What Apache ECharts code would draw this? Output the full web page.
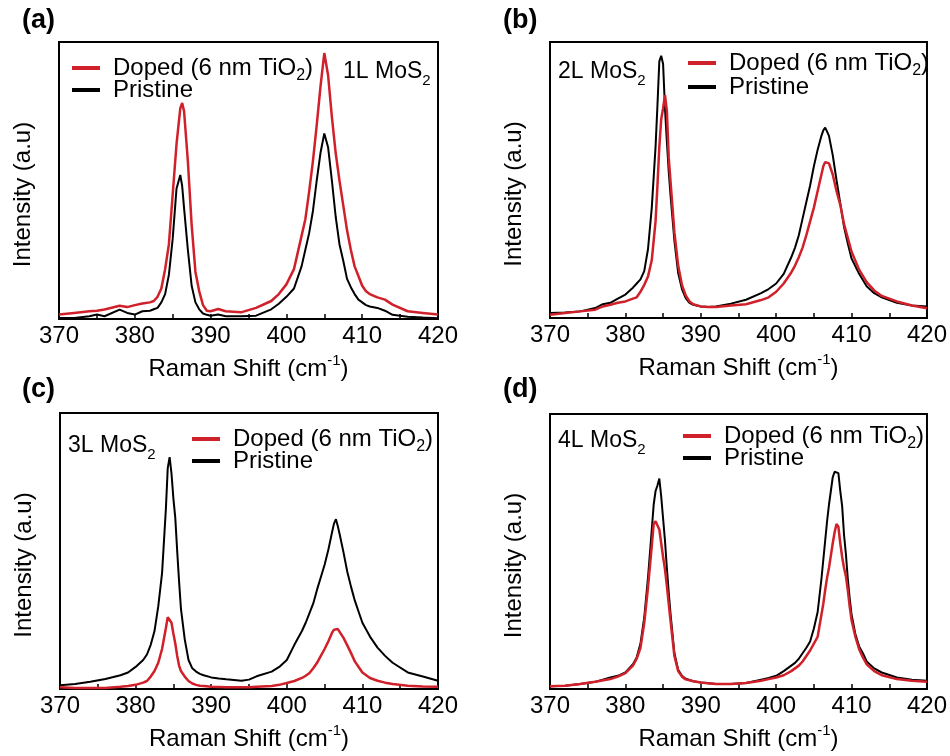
<!DOCTYPE html>
<html>
<head>
<meta charset="utf-8">
<script src="https://cdn.jsdelivr.net/npm/echarts@6/dist/echarts.min.js"></script>
<style>html,body{margin:0;padding:0;background:#fff}#c{width:950px;height:756px}</style>
</head>
<body>
<div id="c"></div>
<script>
// ---- Data (Raman shift in cm^-1, intensity in arbitrary units, 0-100 of panel height) ----
const xTickLabels = [370, 380, 390, 400, 410, 420];
const panelLabels = ['(a)', '(b)', '(c)', '(d)'];
const layerLabels = ['1L MoS{sub|2}', '2L MoS{sub|2}', '3L MoS{sub|2}', '4L MoS{sub|2}'];
const seriesNames = ['Doped', 'Pristine'];

// Panel (a) 1L
const xA = [370,372,374,375,376,378,379,380,381,382,382.5,383,383.5,384,384.5,385,385.5,386,386.25,386.5,387,387.5,388,388.5,389,389.5,390,391,392,394,396,398,399,400,401,402,402.5,403,403.5,404,404.5,405,405.5,406,406.5,407,407.5,408,408.5,409,409.5,410,410.5,411,412,413,414,416,418,420];
const dopedA = [1.6,2.2,2.8,3.0,3.4,4.8,4.3,5.0,5.6,6.0,6.5,8,11,18,27,45,63,76,78,75,57,34,17,10,5,3,2.8,3.6,2.8,2.4,4,6.5,9,12.5,18,30,36,46,57,70,84,96,88,73,60,50,41,32,25,19,15.5,12,10,9,7.8,7,5.2,2.8,2.2,1.6];
const pristineA = [0.4,0.4,1,1.6,1,3.4,2.2,1.6,2.8,3,3.5,4,6,9,16,29,47,52,48,40,25,12,6,3.5,2,1.5,1.2,1.6,1,1,1.2,3.5,5.5,8,11,19,25,31,39,50,60,67,62,50,37,27,21,14.5,11.5,9,7,6,5,4.5,4,3,1.5,0.8,0.5,0.3];

// Panel (b) 2L
const xB = [370,372,374,376,377,378,379,380,381,381.5,382,382.5,383,383.5,384,384.25,384.5,384.75,385,385.25,385.5,385.75,386,386.5,387,387.5,388,388.5,389,390,391,392,394,396,398,399,400,401,402,402.5,403,403.5,404,404.5,405,405.5,406,406.25,406.5,406.75,407,407.5,408,408.5,409,409.5,410,411,412,413,414,416,418,420];
const dopedB = [1.2,1.8,2.4,3,4.2,4.8,5.5,6,7,7.5,9.5,12,15,21,35,48,62,72,76,80.7,75,58,49,31,19,12,8.2,6,5,4.2,4,4,4.5,5,6.5,7.5,9.5,12.5,16.5,19,22,25.5,30,35,40,46,52,55,56.5,57,56,52,46,41,34,29,24,17.5,13,10,8,6,4.5,3.5];
const pristineB = [1.8,2,2.4,3.6,5,5.5,7,8.5,11,12.5,14,17,25,40,62,77,93,95,92,76,64,53,44,28,16.3,10.5,7.2,5.5,4.8,4.2,4,4.2,5.2,6.6,9,10.5,12.5,16,22,25.5,30,36,42,48,55,61,66,68,69,67.5,66,59,50,41.5,33,27,21.5,16,11.5,9,7.5,5.5,4.5,4.2];

// Panel (c) 3L
const xC = [370,372,374,376,378,379,380,381,381.5,382,382.5,383,383.5,384,384.25,384.5,384.75,385,385.25,385.5,385.75,386,386.5,387,387.5,388,388.5,389,390,391,392,394,395,396,398,399,400,401,402,402.5,403,403.5,404,404.5,405,405.5,406,406.25,406.5,406.75,407,407.5,408,408.5,409,409.5,410,411,412,413,414,416,418,420];
const dopedC = [0.6,0.4,0.4,0.4,0.8,1.1,1.5,2.3,2.9,4.5,6.5,9.5,14.5,22,26,26,24,20,16.5,12,8.5,6.5,4.5,2.9,2,1.5,1.2,1.1,0.8,0.7,0.6,0.6,0.6,0.8,1.1,1.5,2.2,2.9,4,4.8,5.8,7.5,9.5,12,14.5,17.3,20.5,21.5,22,21.7,21,18.5,15.8,13,10,8,6,4,3,2.3,1.8,1.2,0.9,0.8];
const pristineC = [1.4,1.8,2.6,3.6,5,6,8,10.5,12.5,16,21,30,42,65,80,84,78,69,62,50,39,29,18,10.5,7.5,6.3,5.5,5,4.2,3.8,3.5,3,3.4,4.6,6.3,8,10.5,16,21,24,27.5,31,36,40.5,45,50.5,57,60,61.5,59,56,49.5,42.5,37,32,28,24,19,15,12,9.5,6,4.5,3];

// Panel (d) 4L
const xD = [370,372,374,376,378,379,380,381,381.5,382,382.5,383,383.5,383.75,384,384.25,384.5,384.75,385,385.25,385.5,385.75,386,386.5,387,387.5,388,389,390,392,394,396,398,399,400,401,402,402.5,403,403.5,404,404.5,405,405.5,406,406.25,406.5,406.75,407,407.25,407.5,407.75,408,408.25,408.5,408.75,409,409.25,409.5,409.75,410,410.5,411,411.5,412,413,414,416,418,420];
const dopedD = [1,1.2,1.8,2.6,3.6,4.5,5.8,8.5,11,15,24,37,52,60,61,61,58,53,48,43.5,37.5,31,24.5,12,6.5,4.5,3.5,2.8,2.4,1.8,1.8,2.2,3,3.6,4.2,5,6.5,7.5,8.5,10,12,14,16.5,19,27,31,36,40.5,44,48.5,53,57,60,59,53,48,44,41,36,30,25,19,14.5,11.5,9,6.5,5,3.6,3,2.6];
const pristineD = [1,1.2,1.8,2.6,4.2,4.8,6,9,11.5,16.5,26,40.5,58,67,72,74,76.5,70,62,54,44,35,27,13,7,4.8,3.7,2.8,2.4,1.8,1.8,2.2,3.4,4,4.8,6.5,8.5,9.5,11,13,15,17.3,22,28,40,47,54,61,67,72,77,79,79,78.5,72,66.5,56,49,40,33,27,20,15.5,13,10,7.5,6,4.2,3.4,3];

const panelX = [xA, xB, xC, xD];
const panelDoped = [dopedA, dopedB, dopedC, dopedD];
const panelPristine = [pristineA, pristineB, pristineC, pristineD];

// ---- Layout / style ----
const FONT = "'Liberation Sans', Arial, Helvetica, sans-serif";
const RED = '#d0202a';
const BLACK = '#000000';
const grids = [
  {left: 59, top: 42, width: 379, height: 277},
  {left: 550, top: 42, width: 379, height: 276},
  {left: 60, top: 413, width: 378, height: 278},
  {left: 550, top: 414, width: 379, height: 277}
];
const panelLabelPos = [[22, 7], [503, 7], [22, 376], [503, 376]];
const layerLabelPos = [[343, 56], [558, 56], [68, 430], [558, 425]];
const legendPos = [[72, 68, 90], [688, 63, 87], [192, 439, 461], [683, 436, 458]];

const richSub = {
  sub: {fontSize: 16, fontFamily: FONT, color: '#000', verticalAlign: 'bottom', lineHeight: 32}
};
const richSup = {
  sup: {fontSize: 15, fontFamily: FONT, color: '#000', verticalAlign: 'top', lineHeight: 32}
};

const option = {
  backgroundColor: '#ffffff',
  animation: false,
  grid: grids.map(g => Object.assign({show: true, borderColor: '#000', borderWidth: 2, backgroundColor: 'transparent', containLabel: false}, g)),
  xAxis: grids.map((g, i) => ({
    type: 'value', gridIndex: i, min: 370, max: 420, interval: 5,
    axisLine: {show: false},
    axisTick: {show: true, inside: true, length: 5, lineStyle: {color: '#000', width: 1.5}},
    splitLine: {show: false},
    axisLabel: {
      color: '#000', fontSize: 24, fontFamily: FONT, margin: 5,
      formatter: v => (xTickLabels.indexOf(v) >= 0 ? String(v) : '')
    },
    name: 'Raman Shift (cm{sup|-1})',
    nameLocation: 'middle', nameGap: 34,
    nameTextStyle: {color: '#000', fontSize: 24, fontFamily: FONT, lineHeight: 32, rich: richSup}
  })),
  yAxis: grids.map((g, i) => ({
    type: 'value', gridIndex: i, min: 0, max: 100,
    axisLine: {show: false}, axisTick: {show: false}, axisLabel: {show: false}, splitLine: {show: false},
    name: 'Intensity (a.u)', nameLocation: 'middle', nameGap: 24,
    nameTextStyle: {color: '#000', fontSize: 24, fontFamily: FONT, padding: [0, 28, 0, 0]}
  })),
  title: [].concat(
    panelLabels.map((t, i) => ({
      text: t, left: panelLabelPos[i][0], top: panelLabelPos[i][1], padding: 0,
      textStyle: {fontSize: 27, fontWeight: 'bold', color: '#000', fontFamily: FONT}
    })),
    layerLabels.map((t, i) => ({
      text: t, left: layerLabelPos[i][0], top: layerLabelPos[i][1], padding: 0,
      textStyle: {fontSize: 23, fontWeight: 'normal', color: '#000', fontFamily: FONT, lineHeight: 32, rich: {sub: {fontSize: 15, fontFamily: FONT, color: '#000', verticalAlign: 'bottom', lineHeight: 32}}}
    }))
  ),
  legend: [].concat.apply([], legendPos.map((p) => [
    {
      data: ['Doped'], left: p[0], top: p[1] - 16, padding: 0, orient: 'vertical',
      icon: 'rect', itemWidth: 28, itemHeight: 4,
      formatter: () => 'Doped (6 nm TiO{sub|2})',
      textStyle: {color: '#000', fontSize: 24, fontFamily: FONT, lineHeight: 32, padding: [0, 0, 0, 8], rich: richSub},
      selectedMode: false
    },
    {
      data: ['Pristine'], left: p[0], top: p[2] - 12, padding: 0, orient: 'vertical',
      icon: 'rect', itemWidth: 28, itemHeight: 4,
      textStyle: {color: '#000', fontSize: 24, fontFamily: FONT, lineHeight: 24, padding: [0, 0, 0, 8]},
      selectedMode: false
    }
  ])),
  series: [].concat.apply([], panelX.map((xs, i) => [
    {
      name: 'Pristine', type: 'line', xAxisIndex: i, yAxisIndex: i,
      data: xs.map((x, k) => [x, panelPristine[i][k]]),
      showSymbol: false, symbol: 'none', smooth: false,
      lineStyle: {color: BLACK, width: 2}, itemStyle: {color: BLACK}, z: 2
    },
    {
      name: 'Doped', type: 'line', xAxisIndex: i, yAxisIndex: i,
      data: xs.map((x, k) => [x, panelDoped[i][k]]),
      showSymbol: false, symbol: 'none', smooth: false,
      lineStyle: {color: RED, width: 2.5}, itemStyle: {color: RED}, z: 3
    }
  ]))
};

const chart = echarts.init(document.getElementById('c'), null, {renderer: 'canvas'});
chart.setOption(option);
</script>
</body>
</html>
